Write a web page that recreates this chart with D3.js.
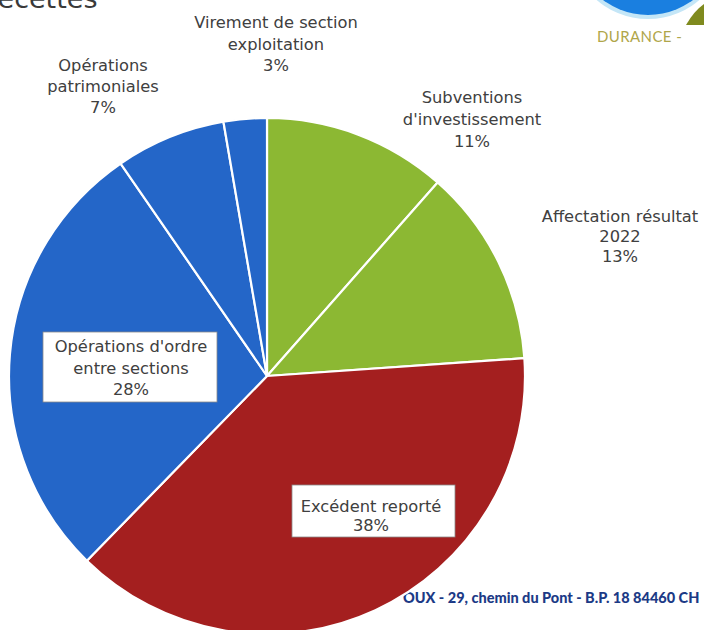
<!DOCTYPE html>
<html><head><meta charset="utf-8">
<script src="https://cdn.jsdelivr.net/npm/d3@7"></script>
<style>html,body{margin:0;padding:0;background:#fff;overflow:hidden}svg{display:block}</style>
</head><body>
<svg id="chart" width="704" height="630"></svg>
<script>
// ---- data ----
const categories = ["Subventions d'investissement", "Affectation résultat 2022", "Excédent reporté", "Opérations d'ordre entre sections", "Opérations patrimoniales", "Virement de section exploitation"];
const labelLines = [["Subventions", "d'investissement"], ["Affectation résultat", "2022"], ["Excédent reporté"], ["Opérations d'ordre", "entre sections"], ["Opérations", "patrimoniales"], ["Virement de section", "exploitation"]];
const values = [11.5, 12.4, 38.4, 28.1, 6.9, 2.7];
const pctLabels = ["11%", "13%", "38%", "28%", "7%", "3%"];
const sliceColors = ["#8cb833", "#8cb833", "#a41f1f", "#2466c8", "#2466c8", "#2466c8"];
const titleText = "Recettes";
const footerText = "OUX - 29, chemin du Pont - B.P. 18 84460 CH";
const logoText = "DURANCE -";

const svg = d3.select("#chart");
const font = "'DejaVu Sans', sans-serif";

// title (cut at top, as in the reference)
svg.append("text").attr("x", -20).attr("y", 8).attr("font-family", font)
  .attr("font-size", 27).attr("fill", "#3a3a3a").text(titleText);

// logo pieces
svg.append("circle").attr("cx", 648).attr("cy", -60).attr("r", 79).attr("fill", "#c4e6f7");
svg.append("circle").attr("cx", 648).attr("cy", -60).attr("r", 75).attr("fill", "#1a7fe0");
svg.append("path").attr("d", "M686,25 Q694,11 704,4 L704,25 Z").attr("fill", "#7f8a1e");
svg.append("text").attr("x", 597).attr("y", 42).attr("font-family", "Lato, sans-serif")
  .attr("font-size", 15).attr("letter-spacing", 0.4).attr("fill", "#b0a64a").text(logoText);

// footer
svg.append("text").attr("x", 403).attr("y", 603).attr("font-family", "Lato, sans-serif")
  .attr("font-weight", 900).attr("font-size", 14.5).attr("fill", "#1c3a86").text(footerText);

// pie
const cx = 267, cy = 376, R = 258;
const pie = d3.pie().sort(null).value(d => d);
const arc = d3.arc().innerRadius(0).outerRadius(R);
const color = d3.scaleOrdinal().domain(categories).range(sliceColors);
const g = svg.append("g").attr("transform", `translate(${cx},${cy})`);
const arcs = pie(values);
g.selectAll("path").data(arcs).join("path")
  .attr("d", arc)
  .attr("fill", (d, i) => color(categories[i]))
  .attr("stroke", "#ffffff").attr("stroke-width", 2.2).attr("stroke-linejoin", "round");

// labels
const labelPos = [
  {x: 472, y: 103, lh: 22},
  {x: 620, y: 222, lh: 20},
  {x: 371, y: 512, lh: 18.5, box: [292, 485, 163, 52]},
  {x: 131, y: 352, lh: 21.5, box: [43, 332, 174, 70]},
  {x: 103, y: 71, lh: 21},
  {x: 276, y: 28, lh: 21.5}
];
categories.forEach((c, i) => {
  const p = labelPos[i];
  if (p.box) {
    svg.append("rect").attr("x", p.box[0]).attr("y", p.box[1]).attr("width", p.box[2]).attr("height", p.box[3])
      .attr("fill", "#ffffff").attr("stroke", "#8a8a8a").attr("stroke-width", 0.8);
  }
  const lines = labelLines[i].concat([pctLabels[i]]);
  const t = svg.append("text").attr("font-family", font).attr("font-size", 16.3)
    .attr("fill", "#404040").attr("text-anchor", "middle");
  lines.forEach((ln, k) => {
    t.append("tspan").attr("x", p.x).attr("y", p.y + k * p.lh).text(ln);
  });
});
</script>
</body></html>
